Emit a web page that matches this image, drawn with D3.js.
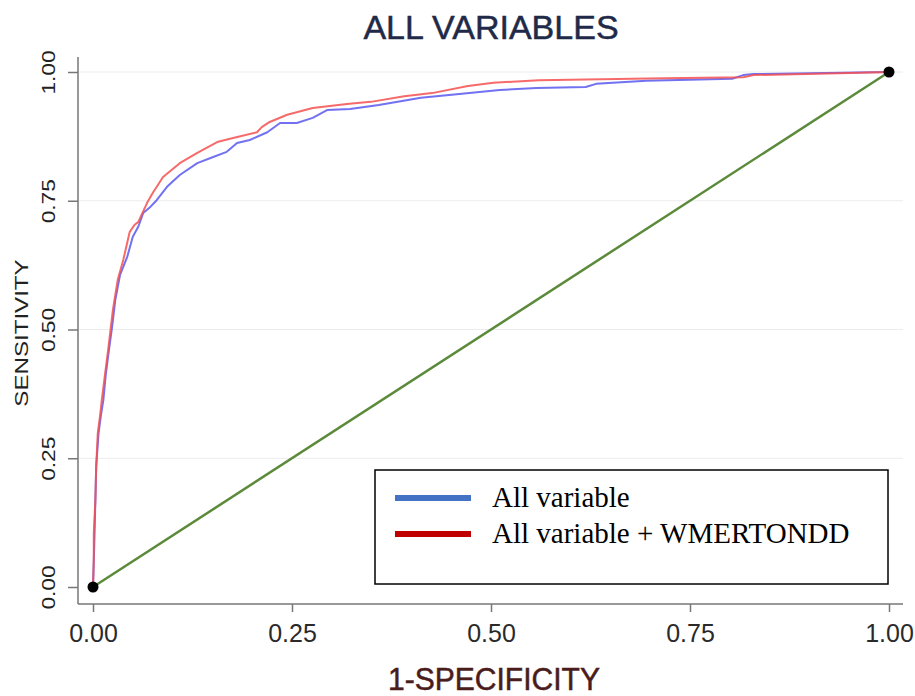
<!DOCTYPE html>
<html lang="en">
<head>
  <meta charset="UTF-8">
  <title>ALL VARIABLES</title>
  <script src="https://d3js.org/d3.v7.min.js"></script>
  <style>
    body { margin: 0; background: #fff; }
    .curve { fill: none; stroke-width: 2px; stroke-linejoin: round; }
    .grid line { stroke: #ececec; stroke-width: 1px; }
  </style>
</head>
<body>
  <div id="chart"></div>
  <script>
    // ROC data: false positive rate (1-specificity) and true positive rate (sensitivity)
    const blueFpr = [0, .001, .002, .003, .004, .007, .010, .013, .016, .020, .024, .028, .034, .043, .050, .057,
      .063, .072, .080, .093, .109, .131, .151, .168, .181, .197, .219, .235, .256, .276, .294, .323, .359, .412,
      .457, .511, .557, .619, .632, .695, .803, .817, .830, .920, 1];
    const blueTpr = [0, .052, .105, .169, .233, .299, .334, .363, .412, .460, .505, .557, .606, .641, .680, .700,
      .726, .738, .751, .777, .800, .823, .835, .845, .862, .868, .883, .901, .901, .911, .926, .928, .936, .950,
      .957, .965, .969, .971, .977, .983, .987, .994, .996, .998, 1];

    const redFpr = [0, .001, .001, .003, .004, .006, .009, .011, .015, .019, .025, .031, .038, .046, .052, .057,
      .062, .068, .075, .088, .109, .131, .156, .176, .206, .212, .222, .244, .276, .319, .349, .391, .426, .471,
      .503, .560, .717, .817, .830, .951, 1];
    const redTpr = [0, .052, .105, .169, .233, .299, .334, .363, .412, .460, .538, .596, .635, .689, .703, .709,
      .726, .746, .765, .796, .823, .843, .864, .872, .883, .893, .903, .917, .930, .938, .942, .953, .959, .973,
      .979, .984, .988, .990, .994, .998, 1];

    const refLine = [0, 1];
    const tickValues = [0, 0.25, 0.5, 0.75, 1];
    const seriesNames = ["All variable", "All variable + WMERTONDD"];
    const legendColors = ["#4472c4", "#c00000"];

    const width = 915;
    const height = 696;

    const svg = d3.select("#chart")
      .append("svg")
      .attr("width", width)
      .attr("height", height);

    const x = d3.scaleLinear().domain([0, 1]).range([93, 889]);
    const y = d3.scaleLinear().domain([0, 1]).range([587, 72]);

    const axisX = 78, axisY = 604;

    // faint horizontal grid
    svg.append("g")
      .attr("class", "grid")
      .selectAll("line")
      .data(tickValues.filter(d => d > 0))
      .join("line")
      .attr("x1", axisX)
      .attr("x2", 903)
      .attr("y1", d => y(d))
      .attr("y2", d => y(d));

    // reference diagonal
    svg.append("line")
      .attr("x1", x(refLine[0])).attr("y1", y(refLine[0]))
      .attr("x2", x(refLine[1])).attr("y2", y(refLine[1]))
      .attr("stroke", "#5b8a3a")
      .attr("stroke-width", 2.5);

    const line = d3.line()
      .x(d => x(d[0]))
      .y(d => y(d[1]));

    svg.append("path")
      .datum(d3.zip(blueFpr, blueTpr))
      .attr("class", "curve")
      .attr("stroke", "#5858f0")
      .attr("stroke-opacity", 0.85)
      .attr("d", line);

    svg.append("path")
      .datum(d3.zip(redFpr, redTpr))
      .attr("class", "curve")
      .attr("stroke", "#f45050")
      .attr("stroke-opacity", 0.85)
      .attr("d", line);

    // end points
    svg.selectAll(".end")
      .data(refLine)
      .join("circle")
      .attr("class", "end")
      .attr("cx", d => x(d))
      .attr("cy", d => y(d))
      .attr("r", 5.5)
      .attr("fill", "#000");

    // axes
    const yAxis = svg.append("g")
      .attr("transform", `translate(${axisX},0)`)
      .call(d3.axisLeft(y).tickValues(tickValues).tickFormat(d3.format(".2f")).tickSize(10));
    yAxis.select(".domain").remove();
    yAxis.selectAll(".tick line").attr("stroke", "#777").attr("stroke-width", 1.5);
    yAxis.selectAll(".tick text")
      .attr("x", null).attr("dy", null)
      .attr("transform", "translate(-23,0) rotate(-90) scale(1.3,1)")
      .attr("text-anchor", "middle")
      .attr("fill", "#222")
      .style("font", "17.5px 'Liberation Sans', Arial, sans-serif");

    const xAxis = svg.append("g")
      .attr("transform", `translate(0,${axisY})`)
      .call(d3.axisBottom(x).tickValues(tickValues).tickFormat(d3.format(".2f")).tickSize(8));
    xAxis.select(".domain").remove();
    xAxis.selectAll(".tick line").attr("stroke", "#777").attr("stroke-width", 1.5);
    xAxis.selectAll(".tick text")
      .attr("y", 38).attr("dy", null)
      .attr("fill", "#2a2a2a")
      .style("font", "25px 'Liberation Sans Narrow', 'Arial Narrow', sans-serif");

    // axis lines
    svg.append("line")
      .attr("x1", axisX).attr("x2", axisX).attr("y1", 57).attr("y2", axisY)
      .attr("stroke", "#777").attr("stroke-width", 1.5);
    svg.append("line")
      .attr("x1", axisX).attr("x2", 903).attr("y1", axisY).attr("y2", axisY)
      .attr("stroke", "#777").attr("stroke-width", 1.5);

    // titles
    svg.append("text")
      .attr("x", 491).attr("y", 39)
      .attr("text-anchor", "middle")
      .attr("fill", "#1f2a48")
      .attr("stroke", "#1f2a48")
      .attr("stroke-width", 0.5)
      .style("font", "34px 'Liberation Sans', Arial, sans-serif")
      .text("ALL VARIABLES");

    svg.append("text")
      .attr("transform", "translate(28,333) rotate(-90) scale(1.34,1)")
      .attr("text-anchor", "middle")
      .attr("fill", "#222")
      .style("font", "18px 'Liberation Sans', Arial, sans-serif")
      .text("SENSITIVITY");

    svg.append("text")
      .attr("x", 388).attr("y", 690)
      .attr("textLength", 212)
      .attr("lengthAdjust", "spacingAndGlyphs")
      .attr("fill", "#4a1c1c")
      .attr("stroke", "#4a1c1c")
      .attr("stroke-width", 0.5)
      .style("font", "31px 'Liberation Sans Narrow', 'Arial Narrow', sans-serif")
      .text("1-SPECIFICITY");

    // legend
    const legend = svg.append("g");
    legend.append("rect")
      .attr("x", 375).attr("y", 470)
      .attr("width", 513).attr("height", 114)
      .attr("fill", "#fff")
      .attr("stroke", "#000")
      .attr("stroke-width", 1.5);

    const items = legend.selectAll(".item")
      .data(seriesNames)
      .join("g")
      .attr("class", "item")
      .attr("transform", (d, i) => `translate(0,${498 + i * 36})`);
    items.append("line")
      .attr("x1", 395).attr("x2", 471)
      .attr("stroke", (d, i) => legendColors[i])
      .attr("stroke-width", 6);
    items.append("text")
      .attr("x", 492).attr("y", 9)
      .attr("fill", "#000")
      .style("font", "29px 'Liberation Serif', 'Times New Roman', serif")
      .text(d => d);
  </script>
</body>
</html>
